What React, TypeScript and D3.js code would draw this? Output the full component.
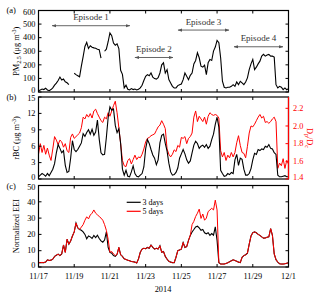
import React from 'react'
import * as d3 from 'd3'

// samples every 2.4 h (0.1 day) from 2014-11-17 00:00 to 2014-12-01 00:00
const START = new Date(2014, 10, 17)
const END = new Date(2014, 11, 1)
const STEP_MS = 0.1 * 24 * 3600 * 1000

const pm25 = [
  10, 15, 22, 18, 28, 15, 10, 18, 30, 50,
  65, 85, 110, 88, 95, 75, 68, 55, null, null,
  138, 128, 120, 112, 190, 260, 335, 365, 320, 340,
  330, 325, 322, 315, 312, 250, null, 300, 315, 370,
  435, 415, 360, 345, 355, 320, 160, 130, 30, 50,
  20, 15, 25, 18, 22, 15, 20, 30, 50, 85,
  116, 128, 120, 140, 110, 99, 95, 105, 140, 200,
  215, 140, 165, 91, 67, 42, 30, 30, 47, 54,
  59, 91, 140, 116, 91, 123, 140, 207, 232, 289,
  252, 190, 183, 198, 128, 215, 240, 232, 301, 331,
  380, 363, 252, 79, 35, 30, 35, 35, 42, 54,
  42, 74, 54, 79, 67, 54, 74, 104, 165, 207,
  240, 165, 183, 207, 227, 264, 277, 264, 272, 277,
  264, 264, 257, 54, 30, 42, 35, 17, 30, 17,
  25,
]

const rbc = [
  0.4, 0.7, 1.0, 0.8, 0.5, 1.0, 0.6, 1.2, 1.8, 2.8,
  4.8, 6.3, 5.6, 4.8, 5.2, 2.5, 1.2, 1.4, 3.8, 7.0,
  5.4, 5.0, 5.4, 6.0, 6.6, 8.3, 7.8, 8.5, 9.0, 8.2,
  9.1, 8.0, 8.6, 10.8, 7.3, 4.8, 4.4, 4.5, 7.6, 11.2,
  13.2, 12.6, 12.8, 9.8, 8.5, 9.2, 6.5, 1.8, 0.7, 1.6,
  0.5, 0.4, 1.3, 2.4, 1.0, 0.5, 0.4, 0.7, 1.0, 2.2,
  5.5, 7.2, 6.5, 5.4, 4.4, 3.8, 2.6, 3.5, 6.6, 8.0,
  8.2, 6.5, 5.1, 2.9, 1.3, 0.7, 0.8, 1.2, 2.0, 3.8,
  4.6, 5.4, 4.6, 3.5, 2.9, 3.3, 4.8, 6.2, 6.9, 6.5,
  5.6, 6.0, 6.2, 5.8, 6.3, 5.6, 6.0, 7.2, 8.2, 10.0,
  11.3, 9.5, 1.6, 1.0, 0.5, 0.6, 1.0, 0.8, 1.2, 1.0,
  3.5, 4.5, 2.5, 3.8, 3.6, 1.8, 0.7, 0.7, 1.0, 1.9,
  3.5, 4.7, 4.5, 5.4, 5.2, 5.5, 5.4, 6.0, 5.8, 6.3,
  5.6, 5.5, 4.8, 4.5, 0.7, 0.4, 0.4, 0.5, 0.6, 0.4,
  0.4,
]

const dpdc = [
  1.68, 1.80, 1.70, 1.78, 1.68, 1.75, 1.67, 1.61, 1.74, 1.88,
  1.84, 1.79, 1.84, 1.82, 1.76, 1.80, 1.72, 1.70, 1.87, 1.91,
  1.86, 1.88, 1.90, 1.92, 1.98, 2.10, 2.08, 2.13, 2.10, 2.14,
  2.09, 2.17, 2.19, 2.14, 2.10, 2.06, 2.04, 2.10, 2.08, 2.15,
  2.11, 2.17, 2.23, 2.28, 2.15, 1.98, 1.80, 1.61, 1.55, 1.54,
  1.61, 1.63, 1.57, 1.62, 1.67, 1.62, 1.65, 1.64, 1.68, 1.74,
  1.82, 1.86, 1.87, 1.89, 1.90, 1.91, 1.95, 1.99, 2.01, 2.06,
  2.02, 1.97, 1.74, 1.68, 1.65, 1.68, 1.73, 1.71, 1.78, 1.76,
  1.87, 1.86, 1.88, 1.80, 1.86, 1.88, 1.92, 2.10, 2.17, 2.05,
  2.11, 2.08, 2.05, 2.10, 2.02, 2.11, 2.15, 2.13, 2.12, 2.13,
  2.12, 2.09, 1.72, 1.65, 1.70, 1.61, 1.67, 1.64, 1.70, 1.65,
  1.70, 1.81, 1.89, 1.78, 1.70, 1.69, 1.64, 1.77, 1.92, 2.00,
  1.99, 2.02, 2.06, 2.10, 2.13, 2.09, 2.11, 2.04, 2.05, 2.03,
  2.05, 2.08, 2.10, 2.05, 1.52, 1.58, 1.55, 1.63, 1.52, 1.61,
  1.57,
]

const eei3 = [
  2.7, 2.7, 2.8, 2.7, 3.0, 4.4, 4.0, 4.2, 4.8, 6.5,
  7.2, 7.9, 7.0, 8.0, 13.5, 9.0, 17.0, 14.0, 16.0, 19.0,
  21.5, 27.0, 24.0, 23.0, 22.5, 21.5, 20.0, 17.3, 19.0, 18.5,
  17.5, 19.4, 18.0, 19.5, 17.5, 16.0, 15.2, 16.5, 21.5, 12.0,
  9.0, 8.5, 7.0, 6.5, 7.8, 12.0, 7.5, 6.5, 5.0, 4.6,
  4.2, 3.8, 3.4, 3.2, 3.0, 2.4, 5.0, 9.0, 11.0, 11.5,
  11.2, 12.0, 11.5, 13.5, 12.0, 11.0, 11.5, 11.0, 13.0, 9.0,
  9.5, 6.5, 4.8, 3.5, 3.0, 2.7, 2.7, 6.0, 10.0, 10.5,
  11.0, 15.0, 12.0, 12.5, 16.3, 19.4, 21.5, 23.0, 24.6, 25.0,
  24.0, 22.5, 23.0, 21.0, 20.4, 21.0, 19.4, 20.5, 19.5, 24.6,
  16.3, 2.7, 1.8, 1.8, 1.8, 2.2, 2.6, 3.2, 3.8, 4.4,
  4.0, 3.5, 3.0, 2.7, 6.0, 7.0, 7.5, 8.5, 14.0, 19.0,
  21.0, 21.5, 21.0, 20.0, 19.4, 18.5, 17.7, 17.8, 18.3, 18.5,
  23.5, 19.4, 8.0, 4.5, 3.0, 2.0, 1.8, 1.8, 2.0, 2.3,
  2.6,
]

const eei5 = [
  2.7, 2.7, 2.8, 2.7, 3.0, 4.4, 4.0, 4.2, 4.8, 6.5,
  7.2, 7.9, 7.0, 8.0, 13.5, 9.0, 17.0, 14.0, 16.0, 19.0,
  21.5, 27.0, 24.0, 23.0, 24.5, 26.0, 28.7, 30.8, 29.5, 31.9,
  33.0, 35.0, 33.0, 32.0, 31.0, 30.0, 28.7, 26.0, 22.5, 17.0,
  9.0, 9.5, 8.0, 7.0, 7.8, 12.0, 7.5, 6.5, 5.0, 4.6,
  4.2, 3.8, 3.4, 3.2, 3.0, 2.4, 5.0, 9.0, 11.0, 11.5,
  11.2, 12.0, 11.5, 13.5, 12.0, 11.0, 11.5, 11.0, 13.0, 9.0,
  9.5, 6.5, 4.8, 3.5, 3.0, 2.7, 2.7, 6.0, 10.0, 10.5,
  11.0, 15.0, 12.0, 12.5, 16.3, 19.4, 26.0, 28.0, 31.0, 33.0,
  35.5, 29.8, 32.5, 28.7, 30.0, 34.0, 35.0, 36.0, 35.0, 41.0,
  35.0, 2.7, 1.8, 1.8, 1.8, 2.2, 2.6, 3.2, 3.8, 4.4,
  4.0, 3.5, 3.0, 2.7, 6.0, 7.0, 7.5, 8.5, 14.0, 19.0,
  21.0, 21.5, 21.0, 20.0, 19.4, 18.5, 17.7, 17.8, 18.3, 18.5,
  23.5, 19.4, 8.0, 4.5, 3.0, 2.0, 1.8, 1.8, 2.0, 2.3,
  2.6,
]

const xTickLabels = ['11/17', '11/19', '11/21', '11/23', '11/25', '11/27', '11/29', '12/1']
const pmTicks = [0, 100, 200, 300, 400, 500, 600]
const rbcTicks = [0, 3, 6, 9, 12, 15]
const dpTicks = [1.4, 1.6, 1.8, 2.0, 2.2]
const eeiTicks = [0, 10, 20, 30, 40, 50]

// episode arrows: start/end in days after 11/17, height in PM2.5 units
const episodeNames = ['Episode 1', 'Episode 2', 'Episode 3', 'Episode 4']
const episodeFrom = [0.76, 5.4, 7.81, 10.95]
const episodeTo = [5.12, 7.53, 10.67, 13.69]
const episodeLevel = [488, 254, 456, 333]

const seriesLabels = ['3 days', '5 days']

const FONT = '"Liberation Serif", "Times New Roman", serif'
const RED = '#ff0000'
const LEFT = 38.5
const RIGHT = 288.5
const TICK = 3

const parseTick = d3.timeParse('%Y/%m/%d')
const sampleTime = (i: number) => new Date(START.getTime() + i * STEP_MS)

const x = d3.scaleTime().domain([START, END]).range([LEFT, RIGHT])
const dayX = (d: number) => x(new Date(START.getTime() + d * 24 * 3600 * 1000))
const xTicks = xTickLabels.map(l => parseTick('2014/' + l) as Date)

const yA = d3.scaleLinear().domain([0, 600]).range([92, 10.5])
const yB = d3.scaleLinear().domain([0, 15]).range([179, 97])
const yB2 = d3.scaleLinear().domain([1.4, 2.328]).range([179, 97])
const yC = d3.scaleLinear().domain([0, 50]).range([267, 185.5])

function makeLine(y: d3.ScaleLinear<number, number>) {
  return d3.line<number | null>()
    .defined(d => d != null)
    .x((d, i) => x(sampleTime(i)))
    .y(d => y(d as number))
}

// end labels sit a little inside the frame, as in the original
function labelY(y: d3.ScaleLinear<number, number>, v: number) {
  const [lo, hi] = y.domain()
  if (v === lo) return y(v) - 1.5
  if (v === hi) return y(v) + 1.5
  return y(v)
}

function Frame({ y, ticks, fmt, mirror = true, labels = false }: any) {
  const [bottom, top] = y.range()
  return (
    <g>
      <rect x={LEFT} y={top} width={RIGHT - LEFT} height={bottom - top}
        fill="none" stroke="#000" strokeWidth={1.2} />
      {xTicks.map((t, i) => (
        <g key={'x' + i}>
          <line x1={x(t)} x2={x(t)} y1={top} y2={top + TICK} stroke="#000" />
          <line x1={x(t)} x2={x(t)} y1={bottom} y2={bottom - TICK} stroke="#000" />
          {labels && (
            <text x={x(t)} y={bottom + 12} textAnchor="middle" fontSize={8.3}>{xTickLabels[i]}</text>
          )}
        </g>
      ))}
      {ticks.map((v: number) => (
        <g key={'y' + v}>
          <line x1={LEFT} x2={LEFT + TICK} y1={y(v)} y2={y(v)} stroke="#000" />
          {mirror && <line x1={RIGHT} x2={RIGHT - TICK} y1={y(v)} y2={y(v)} stroke="#000" />}
          <text x={LEFT - 3} y={labelY(y, v)} dy="0.33em" textAnchor="end" fontSize={8.3}>{fmt(v)}</text>
        </g>
      ))}
    </g>
  )
}

export default function App() {
  const lineA = makeLine(yA)
  const lineB = makeLine(yB)
  const lineB2 = makeLine(yB2)
  const lineC = makeLine(yC)
  const fmtInt = d3.format('d')
  const fmt1 = d3.format('.1f')

  return (
    <svg width={320} height={298} style={{ position: 'absolute', left: 0, top: 0, background: '#fff' }}
      fontFamily={FONT}>
      <defs>
        <marker id="ah" viewBox="0 0 10 10" refX="9" refY="5" markerWidth="5" markerHeight="5"
          orient="auto-start-reverse">
          <path d="M0,1.5 L10,5 L0,8.5 Z" fill="#555" />
        </marker>
      </defs>

      {/* (a) PM2.5 */}
      <path d={lineA(pm25) || ''} fill="none" stroke="#000" strokeWidth={1.1} />
      <Frame y={yA} ticks={pmTicks} fmt={fmtInt} />
      {episodeNames.map((name, i) => {
        const x1 = dayX(episodeFrom[i])
        const x2 = dayX(episodeTo[i])
        const ly = yA(episodeLevel[i])
        return (
          <g key={name}>
            <line x1={x1} x2={x2} y1={ly} y2={ly} stroke="#555" strokeWidth={0.9}
              markerStart="url(#ah)" markerEnd="url(#ah)" />
            <text x={(x1 + x2) / 2} y={ly - 5.5} textAnchor="middle" fontSize={9} fill="#333">{name}</text>
          </g>
        )
      })}
      <text x={6.5} y={13} fontSize={8.5}>(a)</text>
      <text transform={`translate(19,${(yA(0) + yA(600)) / 2}) rotate(-90)`} textAnchor="middle" fontSize={8.3}>
        PM<tspan fontSize={6} dy={2}>2.5</tspan><tspan dy={-2}> (μg m</tspan><tspan fontSize={6} dy={-3}>-3</tspan><tspan dy={3}>)</tspan>
      </text>

      {/* (b) rBC and Dp/Dc */}
      <path d={lineB2(dpdc) || ''} fill="none" stroke={RED} strokeWidth={1} />
      <path d={lineB(rbc) || ''} fill="none" stroke="#000" strokeWidth={1.1} />
      <Frame y={yB} ticks={rbcTicks} fmt={fmtInt} mirror={false} />
      <line x1={RIGHT} x2={RIGHT} y1={97} y2={179} stroke={RED} strokeWidth={1.2} />
      {dpTicks.map(v => (
        <g key={'dp' + v}>
          <line x1={RIGHT} x2={RIGHT - TICK} y1={yB2(v)} y2={yB2(v)} stroke={RED} />
          <text x={RIGHT + 4.5} y={labelY(yB2, v)} dy="0.33em" fontSize={8.3} fill={RED}>{fmt1(v)}</text>
        </g>
      ))}
      <text x={6.5} y={100} fontSize={8.5}>(b)</text>
      <text transform={`translate(19,${(yB(0) + yB(15)) / 2}) rotate(-90)`} textAnchor="middle" fontSize={8.3}>
        rBC (μg m<tspan fontSize={6} dy={-3}>-3</tspan><tspan dy={3}>)</tspan>
      </text>
      <text transform={`translate(307,${(yB(0) + yB(15)) / 2}) rotate(90)`} textAnchor="middle" fontSize={8.3} fill={RED}>
        D<tspan fontSize={6} dy={2}>p</tspan><tspan dy={-2}>/D</tspan><tspan fontSize={6} dy={2}>c</tspan>
      </text>

      {/* (c) EEI */}
      <path d={lineC(eei3) || ''} fill="none" stroke="#000" strokeWidth={1.1} />
      <path d={lineC(eei5) || ''} fill="none" stroke={RED} strokeWidth={1} />
      <Frame y={yC} ticks={eeiTicks} fmt={fmtInt} labels />
      <text x={6.5} y={189} fontSize={8.5}>(c)</text>
      <text transform={`translate(19,${(yC(0) + yC(50)) / 2}) rotate(-90)`} textAnchor="middle" fontSize={8.3}>
        Normalized EEI
      </text>
      {seriesLabels.map((s, i) => (
        <g key={s}>
          <line x1={126.7} x2={140.7} y1={202.3 + i * 9} y2={202.3 + i * 9}
            stroke={i === 0 ? '#000' : RED} strokeWidth={1.2} />
          <text x={142.5} y={202.3 + i * 9} dy="0.33em" fontSize={8}>{s}</text>
        </g>
      ))}
      <text x={163} y={292} textAnchor="middle" fontSize={8.3}>2014</text>
    </svg>
  )
}
